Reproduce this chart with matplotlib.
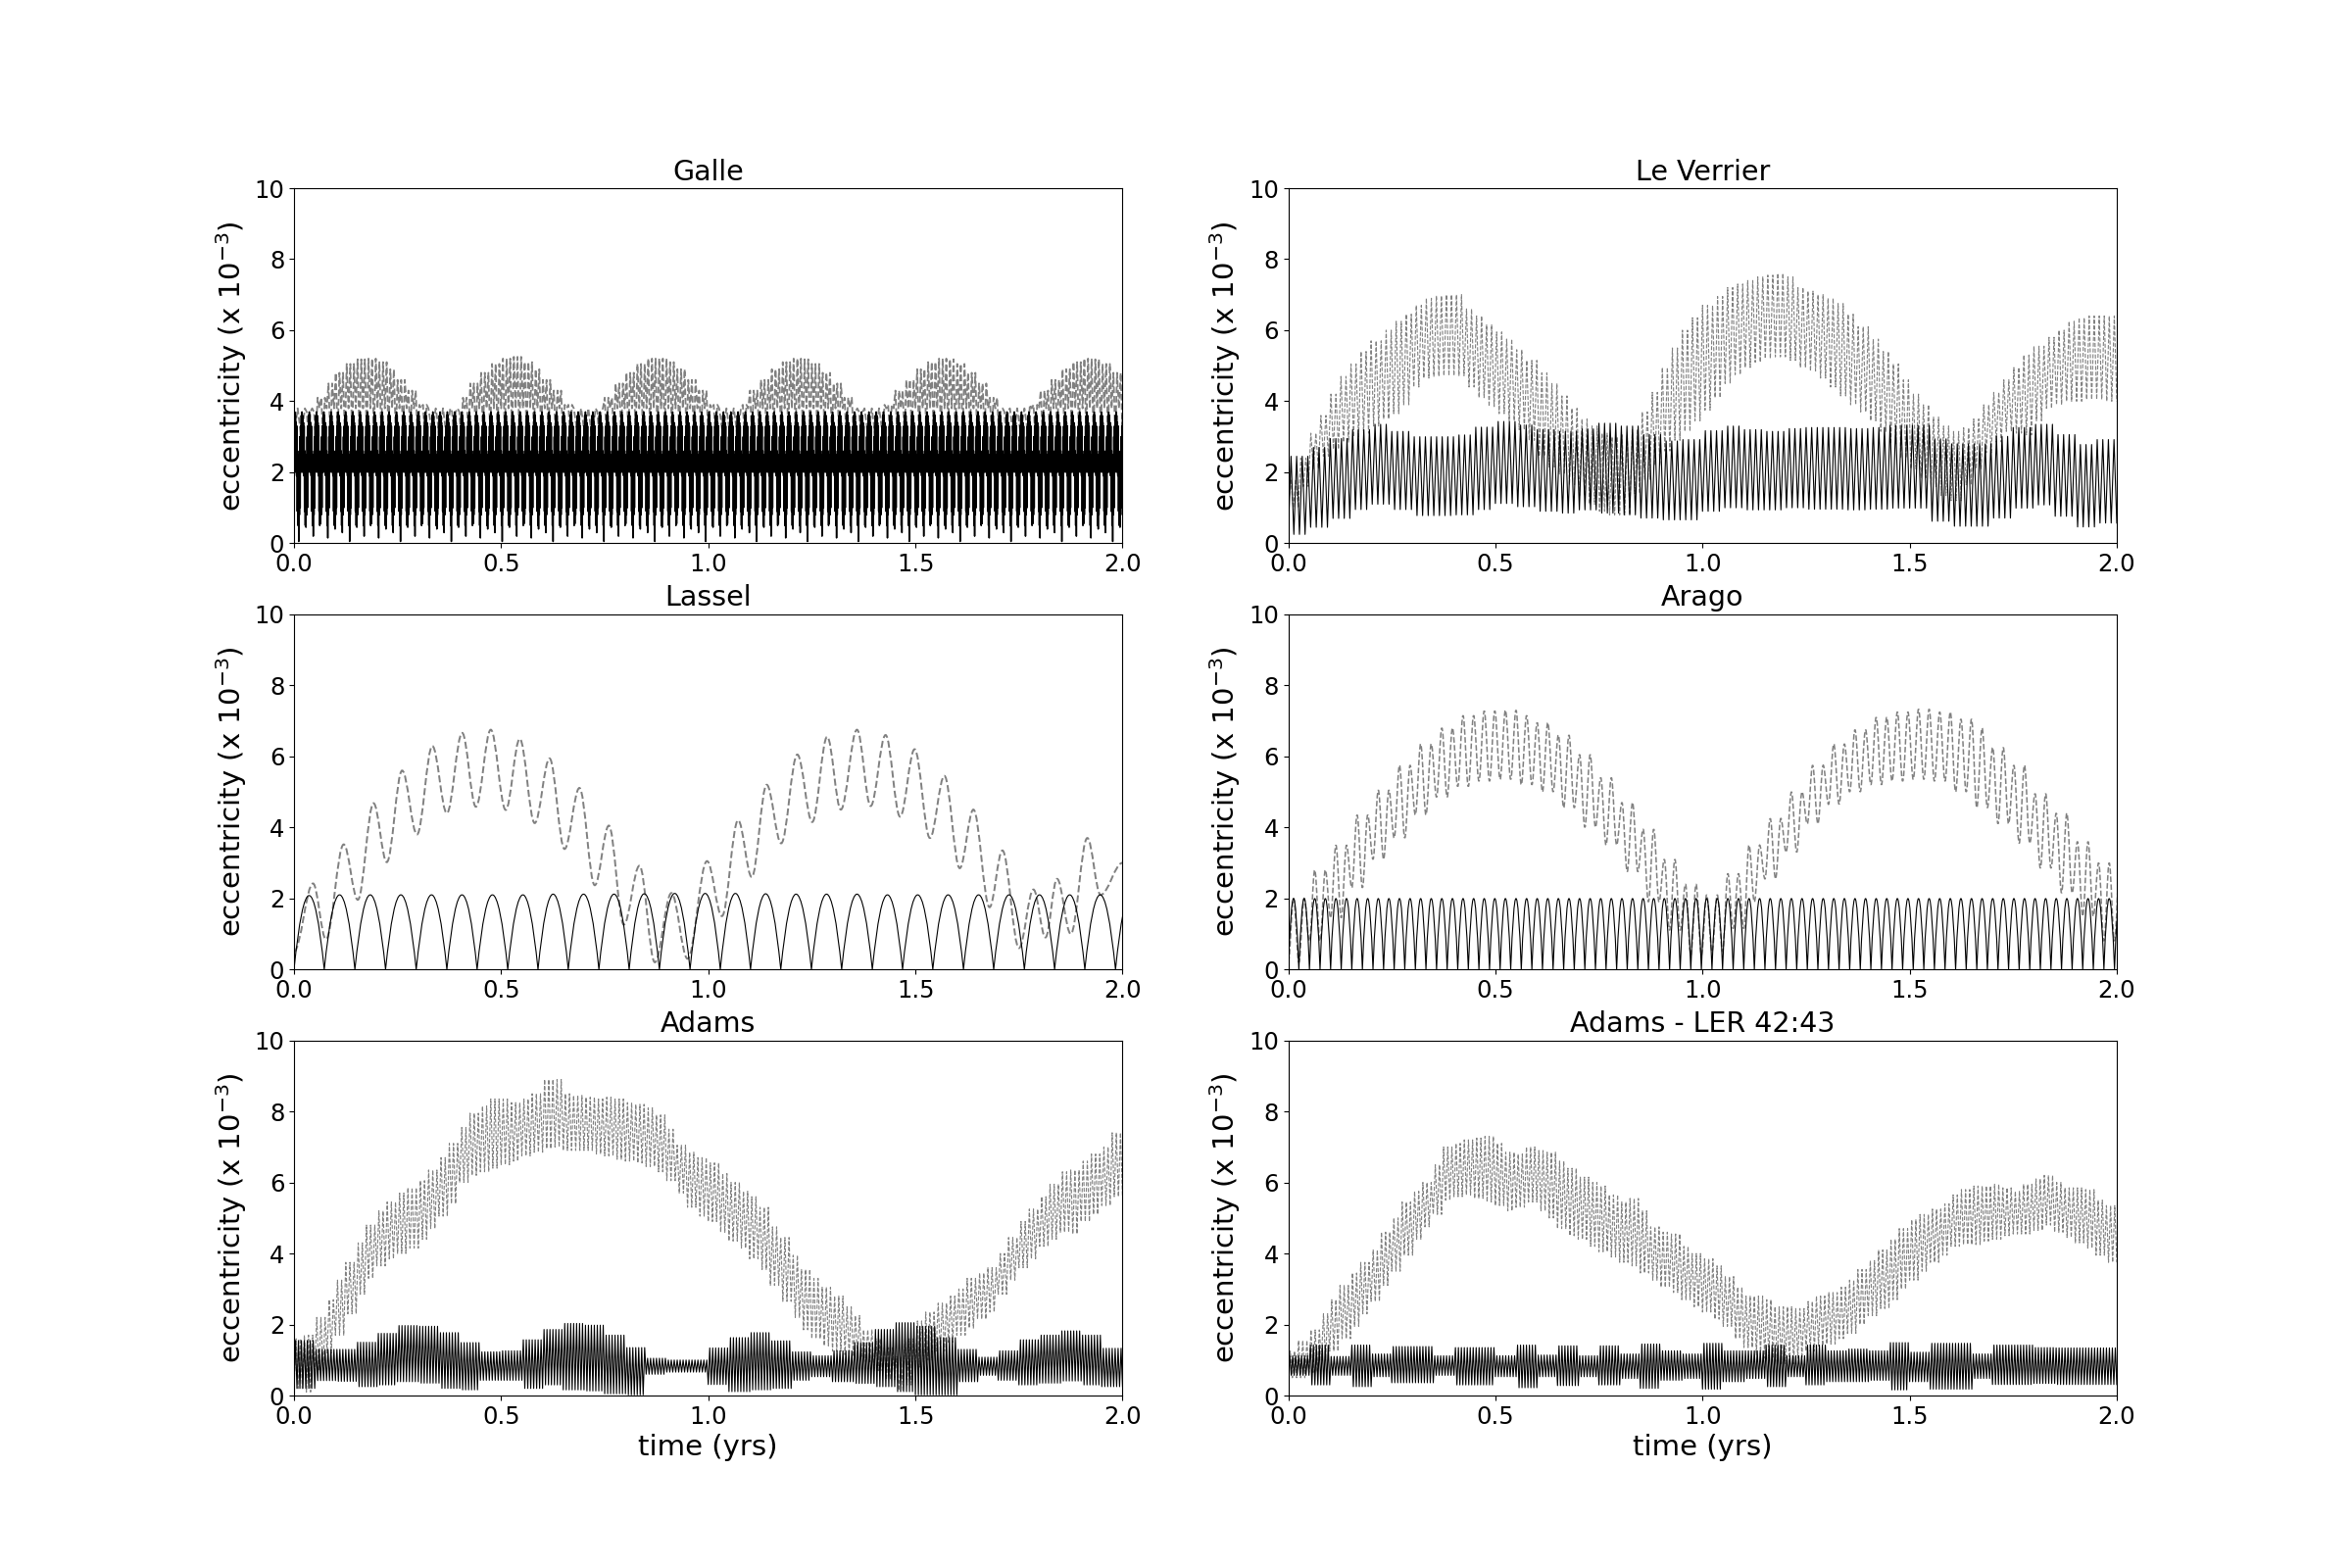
import numpy as np
import matplotlib
matplotlib.use("Agg")
import matplotlib.pyplot as plt
from matplotlib.path import Path
from matplotlib.patches import PathPatch

# Все значения: огибающие по равным блокам времени на отрезке 0-2 года
# (длина блока = 2 / число значений), число быстрых колебаний за 2 года,
# точки экстремумов для читаемых кривых.

# --- Galle ---
GALLE_CYCLES = 114
GALLE_BLACK_SHAPE = [3.6, 2.1, 3.7, 2.0, 3.6, 2.1, 3.4, 1.9, 3.3, 0.9, 2.6, 0.5, 2.4]
GALLE_BLACK_TAIL = [2.5, 0.8, 3.0, 1.0, 3.3, 2.0]
GALLE_BLACK_LOWS = [0.05, 0.45, 0.2, 0.55, 0.15, 0.4, 0.3]
GALLE_GRAY_UPPER = [3.4, 3.7, 4.1, 4.5, 4.8, 5.05, 5.18, 5.2, 5.1, 4.9,
                    4.6, 4.3, 3.9, 3.45, 3.4, 3.7, 4.1, 4.5, 4.8, 5.05,
                    5.2, 5.25, 5.1, 4.9, 4.6, 4.3, 3.9, 3.45, 3.4, 3.7,
                    4.1, 4.5, 4.8, 5.05, 5.2, 5.2, 5.1, 4.9, 4.6, 4.3,
                    3.9, 3.45, 3.45, 3.9, 4.3, 4.6, 4.9, 5.1, 5.2, 5.18,
                    5.05, 4.8, 4.5, 4.1, 3.7, 3.4, 3.45, 3.9, 4.3, 4.6,
                    4.9, 5.1, 5.2, 5.18, 5.05, 4.8, 4.5, 4.1, 3.7, 3.4,
                    3.45, 3.9, 4.3, 4.6, 4.9, 5.1, 5.2, 5.18, 5.05, 4.8]
GALLE_GRAY_FLOOR = 3.0
GALLE_GRAY_MID = 3.8

# --- Le Verrier ---
LV_BLACK_CYCLES = 148
LV_GRAY_CYCLES = 165
LV_BLACK_UPPER = [2.45, 2.7, 2.95, 3.2, 3.35, 3.15, 3.0, 3.0, 3.05, 3.27,
                  3.43, 3.33, 3.2, 3.15, 3.22, 3.38, 3.3, 3.06, 2.88, 2.92,
                  3.17, 3.3, 3.2, 3.15, 3.23, 3.26, 3.26, 3.23, 3.26, 3.32,
                  3.32, 2.94, 2.8, 2.8, 3.01, 3.26, 3.35, 3.06, 2.78, 2.92]
LV_BLACK_LOWER = [0.25, 0.45, 0.7, 0.95, 1.1, 0.95, 0.78, 0.78, 0.8, 0.95,
                  1.12, 1.03, 0.9, 0.85, 0.94, 0.85, 0.8, 0.71, 0.66, 0.66,
                  0.9, 1.0, 0.94, 0.94, 1.0, 0.96, 0.96, 0.94, 0.96, 0.99,
                  0.99, 0.62, 0.48, 0.48, 0.71, 0.99, 1.08, 0.76, 0.46, 0.57]
LV_GRAY_UPPER = [1.8, 2.4, 3.1, 3.6, 4.2, 4.7, 5.05, 5.4, 5.7, 6.0,
                 6.25, 6.45, 6.7, 6.9, 6.97, 7.0, 7.0, 6.6, 6.4, 6.15,
                 5.95, 5.75, 5.45, 5.15, 4.8, 4.5, 4.15, 3.8, 3.5, 3.3,
                 3.1, 3.0, 3.05, 3.2, 3.7, 4.25, 4.95, 5.5, 6.0, 6.35,
                 6.7, 6.95, 7.2, 7.3, 7.4, 7.5, 7.55, 7.6, 7.5, 7.2,
                 7.1, 7.0, 6.9, 6.75, 6.45, 6.1, 5.75, 5.4, 5.05, 4.6,
                 4.2, 3.9, 3.55, 3.3, 3.15, 3.25, 3.5, 3.9, 4.25, 4.6,
                 4.95, 5.3, 5.55, 5.8, 6.0, 6.25, 6.35, 6.4, 6.4, 6.4]
LV_GRAY_LOWER = [1.0, 1.6, 2.1, 2.45, 2.65, 2.85, 3.0, 3.1, 3.3, 3.5,
                 3.65, 3.9, 4.4, 4.65, 4.7, 4.72, 4.72, 4.4, 4.1, 3.85,
                 3.65, 3.45, 3.2, 2.9, 2.45, 2.15, 1.95, 1.65, 1.35, 1.1,
                 0.9, 0.8, 0.8, 1.4, 1.8, 2.2, 2.6, 2.9, 3.15, 3.45,
                 3.75, 4.1, 4.5, 4.75, 4.95, 5.1, 5.2, 5.25, 5.15, 4.95,
                 4.85, 4.65, 4.4, 4.15, 3.9, 3.7, 3.45, 3.15, 2.8, 2.4,
                 2.1, 1.85, 1.6, 1.35, 1.2, 1.65, 2.1, 2.55, 2.85, 3.15,
                 3.1, 3.05, 3.45, 3.8, 3.9, 4.0, 4.0, 4.05, 4.05, 4.0]

# --- Lassel ---
LASSEL_ZEROS = [0.0, 0.073, 0.147, 0.221, 0.295, 0.369, 0.442, 0.516, 0.589, 0.662,
                0.736, 0.809, 0.882, 0.956, 1.029, 1.102, 1.175, 1.249, 1.322, 1.396,
                1.469, 1.542, 1.616, 1.689, 1.763, 1.836, 1.909, 1.983, 2.056]
LASSEL_PEAKS = [2.08, 2.1, 2.1, 2.1, 2.1, 2.1, 2.1, 2.1, 2.12, 2.12,
                2.12, 2.13, 2.14, 2.14, 2.14, 2.13, 2.12, 2.12, 2.12, 2.1,
                2.1, 2.1, 2.1, 2.1, 2.1, 2.1, 2.1, 2.1]
LASSEL_GRAY_T = [0.0, 0.046, 0.077, 0.12, 0.154, 0.192, 0.224, 0.261, 0.297, 0.334,
                 0.369, 0.406, 0.439, 0.475, 0.511, 0.545, 0.581, 0.617, 0.653, 0.689,
                 0.726, 0.76, 0.796, 0.834, 0.871, 0.911, 0.95, 0.997, 1.033, 1.072,
                 1.105, 1.141, 1.176, 1.215, 1.251, 1.287, 1.32, 1.359, 1.392, 1.428,
                 1.463, 1.498, 1.535, 1.57, 1.607, 1.64, 1.679, 1.71, 1.75, 1.785,
                 1.814, 1.842, 1.875, 1.915, 1.947, 2.0]
LASSEL_GRAY_E = [0.5, 2.42, 0.85, 3.52, 1.96, 4.68, 3.02, 5.6, 3.8, 6.29,
                 4.4, 6.66, 4.58, 6.75, 4.49, 6.49, 4.12, 5.94, 3.39, 5.11,
                 2.37, 4.05, 1.26, 2.92, 0.2, 2.15, 0.3, 3.05, 1.5, 4.2,
                 2.6, 5.2, 3.55, 6.05, 4.15, 6.55, 4.5, 6.75, 4.6, 6.6,
                 4.3, 6.2, 3.7, 5.45, 2.85, 4.5, 1.75, 3.35, 0.6, 2.25,
                 0.9, 2.55, 1.0, 3.7, 2.1, 3.0]

# --- Arago ---
ARAGO_PERIOD = 0.02557
ARAGO_ARCHES = 79
ARAGO_PEAK = 2.0
ARAGO_GRAY_UPPER = [2.0, 2.8, 3.5, 4.35, 5.05, 5.75, 6.35, 6.8, 7.15, 7.28,
                    7.3, 7.15, 6.95, 6.6, 6.05, 5.4, 4.7, 3.95, 3.1, 2.4,
                    2.1, 2.7, 3.5, 4.25, 5.0, 5.75, 6.35, 6.75, 7.1, 7.25,
                    7.33, 7.25, 7.05, 6.8, 6.25, 5.75, 4.95, 4.4, 3.6, 3.0]
ARAGO_GRAY_LOWER = [0.2, 0.8, 1.45, 2.3, 3.1, 3.7, 4.35, 4.85, 5.15, 5.3,
                    5.35, 5.2, 5.0, 4.55, 4.0, 3.5, 2.75, 1.9, 1.1, 0.4,
                    0.5, 1.15, 1.9, 2.55, 3.3, 4.1, 4.65, 5.0, 5.2, 5.3,
                    5.35, 5.3, 5.0, 4.55, 4.1, 3.55, 2.85, 2.15, 1.5, 0.8]

# --- Adams ---
ADAMS_BLACK_CYCLES = 280
ADAMS_GRAY_CYCLES = 200
ADAMS_BLACK_UPPER = [1.55, 1.3, 1.3, 1.5, 1.75, 1.97, 1.95, 1.77, 1.49, 1.23,
                     1.26, 1.57, 1.86, 2.03, 1.98, 1.7, 1.35, 1.05, 1.0, 1.0,
                     1.34, 1.63, 1.77, 1.54, 1.23, 1.12, 1.26, 1.49, 1.86, 2.05,
                     1.95, 1.63, 1.3, 1.08, 1.26, 1.57, 1.7, 1.82, 1.7, 1.33]
ADAMS_BLACK_LOWER = [0.2, 0.42, 0.4, 0.25, 0.3, 0.39, 0.35, 0.2, 0.16, 0.43,
                     0.43, 0.2, 0.3, 0.16, 0.13, 0.05, 0.02, 0.6, 0.66, 0.66,
                     0.31, 0.11, 0.16, 0.2, 0.43, 0.53, 0.39, 0.34, 0.25, 0.11,
                     0.02, 0.02, 0.39, 0.57, 0.43, 0.3, 0.35, 0.41, 0.3, 0.25]
ADAMS_GRAY_UPPER = [1.6, 1.7, 2.2, 2.7, 3.25, 3.75, 4.3, 4.8, 5.2, 5.45,
                    5.7, 5.85, 6.05, 6.35, 6.7, 7.1, 7.55, 7.95, 8.15, 8.35,
                    8.35, 8.25, 8.35, 8.5, 8.9, 8.9, 8.5, 8.45, 8.4, 8.35,
                    8.4, 8.35, 8.25, 8.2, 8.1, 7.9, 7.5, 7.05, 6.85, 6.7,
                    6.55, 6.25, 6.0, 5.75, 5.6, 5.3, 4.75, 4.45, 3.95, 3.55,
                    3.3, 3.05, 2.8, 2.5, 2.25, 1.85, 1.6, 1.35, 1.1, 1.6,
                    2.1, 2.35, 2.6, 2.8, 3.0, 3.3, 3.45, 3.6, 4.0, 4.45,
                    4.9, 5.25, 5.6, 5.95, 6.3, 6.35, 6.6, 6.8, 7.0, 7.4]
ADAMS_GRAY_LOWER = [0.2, 0.1, 0.7, 1.2, 1.7, 2.3, 2.85, 3.3, 3.65, 3.85,
                    4.0, 4.15, 4.4, 4.7, 5.05, 5.4, 6.0, 6.2, 6.3, 6.4,
                    6.5, 6.6, 6.75, 6.85, 6.95, 7.0, 6.9, 6.9, 6.9, 6.8,
                    6.75, 6.65, 6.6, 6.55, 6.45, 6.3, 6.05, 5.7, 5.3, 5.05,
                    4.9, 4.6, 4.35, 4.15, 3.85, 3.55, 3.1, 2.65, 2.2, 1.85,
                    1.6, 1.4, 1.25, 1.15, 1.1, 0.95, 0.7, 0.45, 0.15, 0.3,
                    0.8, 1.0, 1.25, 1.5, 1.7, 1.9, 2.15, 2.35, 2.85, 3.25,
                    3.6, 3.85, 4.2, 4.4, 4.6, 4.55, 4.9, 5.1, 5.35, 5.6]

# --- Adams - LER 42:43 ---
LER_BLACK_CYCLES = 280
LER_GRAY_CYCLES = 200
LER_BLACK_UPPER = [1.12, 1.42, 1.1, 1.42, 1.17, 1.38, 1.38, 1.12, 1.35, 1.35,
                   1.12, 1.42, 1.14, 1.4, 1.12, 1.4, 1.17, 1.45, 1.26, 1.17,
                   1.47, 1.26, 1.26, 1.42, 1.12, 1.42, 1.26, 1.31, 1.26, 1.49,
                   1.22, 1.47, 1.47, 1.17, 1.42, 1.42, 1.35, 1.34, 1.34, 1.34]
LER_BLACK_LOWER = [0.57, 0.3, 0.57, 0.25, 0.53, 0.36, 0.36, 0.57, 0.3, 0.3,
                   0.53, 0.22, 0.53, 0.28, 0.53, 0.3, 0.48, 0.2, 0.43, 0.48,
                   0.18, 0.39, 0.48, 0.25, 0.53, 0.3, 0.39, 0.39, 0.43, 0.16,
                   0.39, 0.18, 0.18, 0.48, 0.31, 0.31, 0.34, 0.31, 0.31, 0.31]
LER_GRAY_UPPER = [1.25, 1.55, 1.85, 2.3, 2.7, 3.1, 3.45, 3.75, 4.1, 4.6,
                  5.0, 5.45, 5.75, 6.0, 6.5, 7.0, 7.1, 7.2, 7.25, 7.3,
                  7.1, 6.85, 6.8, 7.0, 6.9, 6.85, 6.6, 6.4, 6.15, 6.0,
                  5.9, 5.65, 5.45, 5.55, 5.2, 4.75, 4.6, 4.55, 4.2, 4.0,
                  3.85, 3.65, 3.35, 3.05, 2.8, 2.8, 2.7, 2.5, 2.5, 2.45,
                  2.65, 2.8, 2.9, 3.05, 3.25, 3.55, 3.8, 4.1, 4.4, 4.7,
                  4.95, 5.1, 5.25, 5.4, 5.65, 5.8, 5.9, 5.9, 5.95, 5.85,
                  5.75, 5.95, 6.1, 6.2, 6.0, 5.85, 5.85, 5.8, 5.5, 5.35]
LER_GRAY_LOWER = [0.5, 0.5, 0.65, 1.0, 1.25, 1.6, 1.95, 2.3, 2.65, 3.1,
                  3.5, 3.95, 4.4, 4.75, 5.1, 5.5, 5.6, 5.65, 5.55, 5.45,
                  5.35, 5.2, 5.3, 5.45, 5.2, 5.0, 4.7, 4.5, 4.4, 4.2,
                  4.05, 3.9, 3.75, 3.65, 3.45, 3.25, 3.05, 2.9, 2.7, 2.5,
                  2.35, 2.15, 1.95, 1.6, 1.35, 1.15, 1.05, 0.9, 0.9, 1.05,
                  1.25, 1.4, 1.45, 1.6, 1.75, 2.0, 2.25, 2.45, 2.7, 3.0,
                  3.25, 3.5, 3.75, 3.95, 4.2, 4.25, 4.25, 4.35, 4.4, 4.5,
                  4.55, 4.55, 4.65, 4.8, 4.6, 4.45, 4.3, 4.15, 3.95, 3.75]

TITLES = ["Galle", "Le Verrier", "Lassel", "Arago", "Adams", "Adams - LER 42:43"]
XTICKS = [0.0, 0.5, 1.0, 1.5, 2.0]
YTICKS = [0, 2, 4, 6, 8, 10]

BLACK = dict(color="k", lw=0.8)
GRAY_DENSE = dict(color="gray", ls="--", lw=0.8)
GRAY_SMOOTH = dict(color="gray", ls="--", lw=1.4)


def block_values(t, values):
    # значение блока, в который попадает момент t (без интерполяции)
    block = 2.0 / len(values)
    k = np.minimum((np.asarray(t) / block).astype(int), len(values) - 1)
    return np.asarray(values)[k]


def band(upper, lower, n_cycles):
    """Быстрые колебания между нижней и верхней огибающей."""
    t = np.linspace(0.0, 2.0, 2 * n_cycles + 1)
    up = block_values(t, upper)
    lo = block_values(t, lower)
    y = np.where(np.arange(t.size) % 2 == 0, lo, up)
    return t, y


def smooth_patch(t, y, **kw):
    # гладкая кривая через точки экстремумов (горизонтальные касательные)
    verts = [(t[0], y[0])]
    codes = [Path.MOVETO]
    for i in range(len(t) - 1):
        dt = t[i + 1] - t[i]
        verts += [(t[i] + 0.36 * dt, y[i]), (t[i + 1] - 0.36 * dt, y[i + 1]), (t[i + 1], y[i + 1])]
        codes += [Path.CURVE4] * 3
    return PathPatch(Path(verts, codes), facecolor="none", edgecolor=kw["color"],
                     lw=kw["lw"], ls=kw.get("ls", "-"))


def arches_patch(zeros, peaks, **kw):
    # арки вида |sin| между нулями
    verts = [(zeros[0], 0.0)]
    codes = [Path.MOVETO]
    for i, p in enumerate(peaks):
        mid = 0.5 * (zeros[i] + zeros[i + 1])
        verts += [(mid, 2 * p), (zeros[i + 1], 0.0)]
        codes += [Path.CURVE3] * 2
    return PathPatch(Path(verts, codes), facecolor="none", edgecolor=kw["color"], lw=kw["lw"])


plt.rcParams["font.size"] = 17.5

fig, axes = plt.subplots(3, 2, figsize=(24, 16), dpi=100)
ax_galle, ax_lv = axes[0]
ax_lassel, ax_arago = axes[1]
ax_adams, ax_ler = axes[2]

# Galle: серая полоса (два пика на период) и плотная чёрная
t = np.linspace(0.0, 2.0, 4 * GALLE_CYCLES + 1)
up = block_values(t, GALLE_GRAY_UPPER)
phase = np.arange(t.size) % 4
y = np.where(phase % 2 == 1, up, np.where(phase == 0, GALLE_GRAY_FLOOR, GALLE_GRAY_MID))
ax_galle.plot(t, y, color="gray", ls="--", lw=1.3)
seq = []
for i in range(GALLE_CYCLES):
    seq += GALLE_BLACK_SHAPE + [GALLE_BLACK_LOWS[i % len(GALLE_BLACK_LOWS)]] + GALLE_BLACK_TAIL
seq.append(GALLE_BLACK_SHAPE[0])
ax_galle.plot(np.linspace(0.0, 2.0, len(seq)), seq, color="k", lw=1.1)

# Le Verrier
t, y = band(LV_GRAY_UPPER, LV_GRAY_LOWER, LV_GRAY_CYCLES)
ax_lv.plot(t, y, **GRAY_DENSE)
t, y = band(LV_BLACK_UPPER, LV_BLACK_LOWER, LV_BLACK_CYCLES)
ax_lv.plot(t, y, **BLACK)

# Lassel
ax_lassel.add_patch(smooth_patch(LASSEL_GRAY_T, LASSEL_GRAY_E, **GRAY_SMOOTH))
ax_lassel.add_patch(arches_patch(LASSEL_ZEROS, LASSEL_PEAKS, **BLACK))

# Arago
t_ar = 0.5 * ARAGO_PERIOD * np.arange(2 * ARAGO_ARCHES + 1)
up = block_values(t_ar, ARAGO_GRAY_UPPER)
lo = block_values(t_ar, ARAGO_GRAY_LOWER)
y_ar = np.where(np.arange(t_ar.size) % 2 == 0, lo, up)
ax_arago.add_patch(smooth_patch(t_ar, y_ar, color="gray", ls="--", lw=1.1))
zeros = ARAGO_PERIOD * np.arange(ARAGO_ARCHES + 1)
ax_arago.add_patch(arches_patch(zeros, [ARAGO_PEAK] * ARAGO_ARCHES, **BLACK))

# Adams
t, y = band(ADAMS_GRAY_UPPER, ADAMS_GRAY_LOWER, ADAMS_GRAY_CYCLES)
ax_adams.plot(t, y, **GRAY_DENSE)
t, y = band(ADAMS_BLACK_UPPER, ADAMS_BLACK_LOWER, ADAMS_BLACK_CYCLES)
ax_adams.plot(t, y, **BLACK)

# Adams - LER 42:43
t, y = band(LER_GRAY_UPPER, LER_GRAY_LOWER, LER_GRAY_CYCLES)
ax_ler.plot(t, y, **GRAY_DENSE)
t, y = band(LER_BLACK_UPPER, LER_BLACK_LOWER, LER_BLACK_CYCLES)
ax_ler.plot(t, y, **BLACK)

for ax, title in zip(axes.flat, TITLES):
    ax.set_xlim(0, 2.0)
    ax.set_ylim(0, 10)
    ax.set_xticks(XTICKS)
    ax.set_yticks(YTICKS)
    ax.set_title(title, fontsize=20.5)
    ax.set_ylabel("eccentricity (x 10$^{-3}$)", fontsize=21)
for ax in axes[2]:
    ax.set_xlabel("time (yrs)", fontsize=21)

fig.savefig("out.png", dpi=100)
